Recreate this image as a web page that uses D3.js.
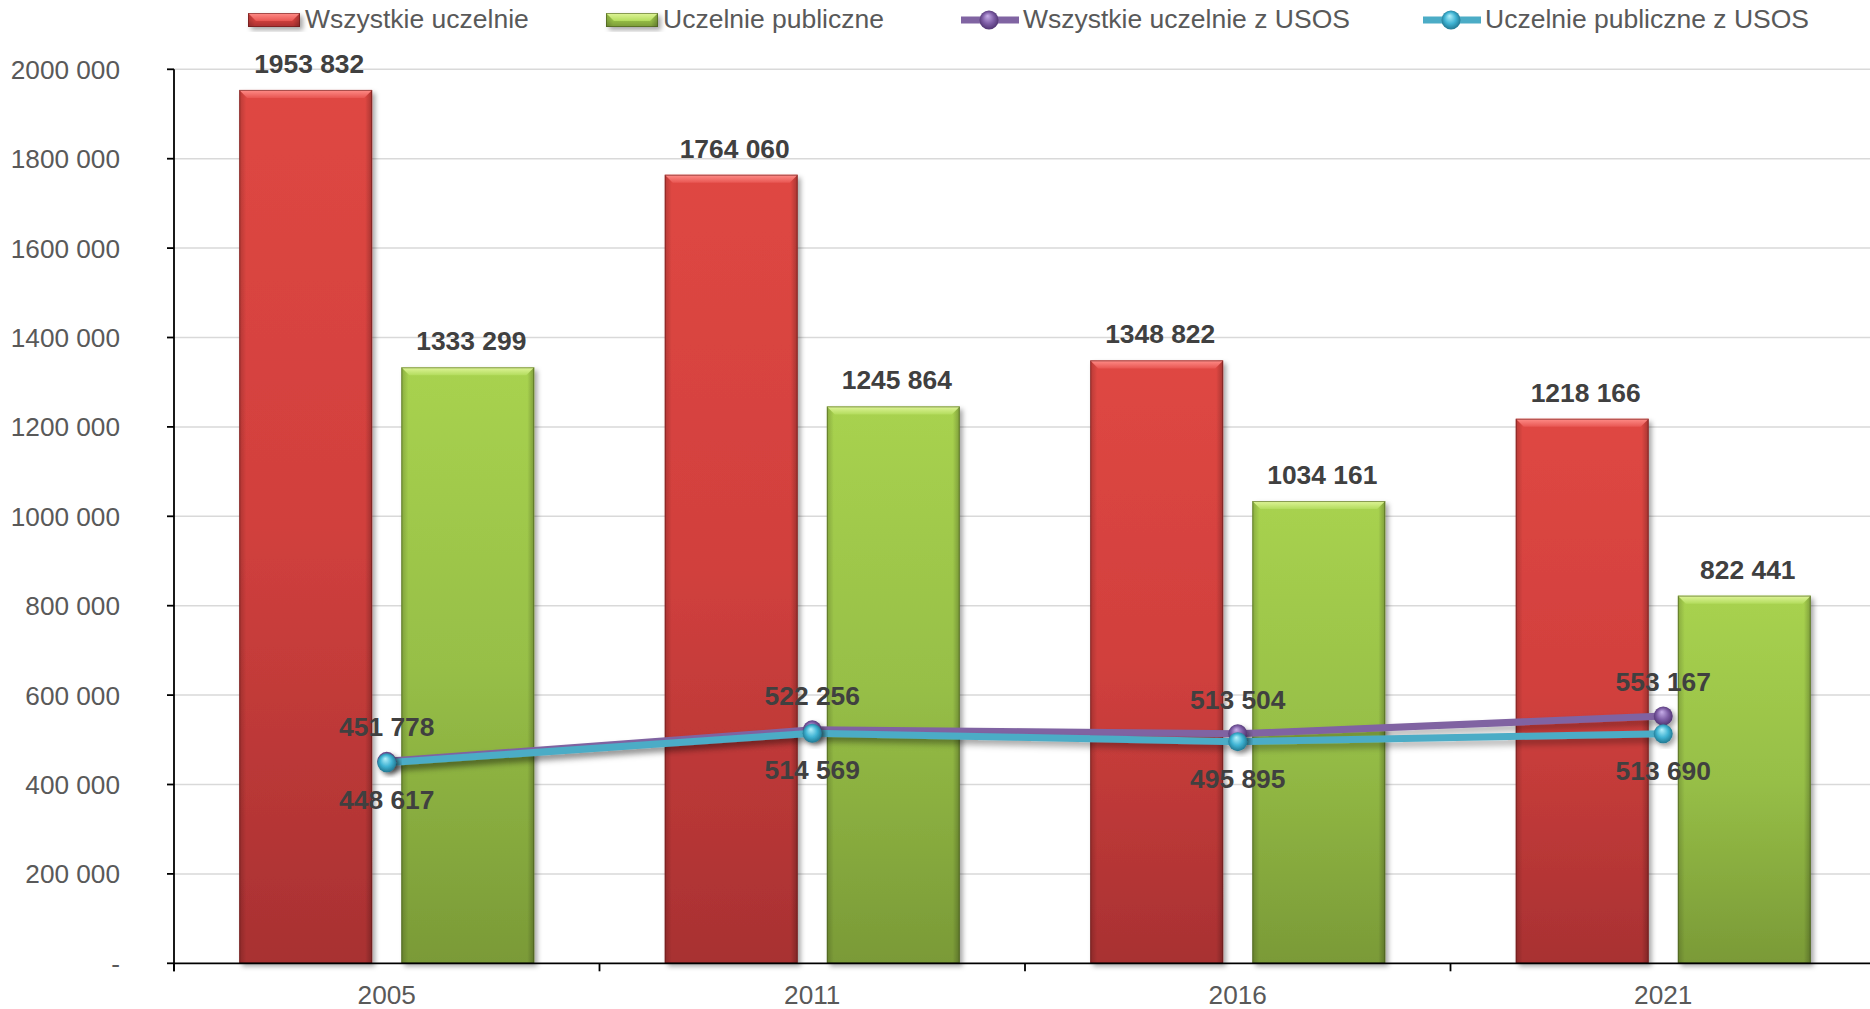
<!DOCTYPE html>
<html>
<head>
<meta charset="utf-8">
<script src="https://cdn.jsdelivr.net/npm/d3@7/dist/d3.min.js"></script>
<style>
  html, body { margin: 0; padding: 0; background: #fff; }
  svg { display: block; font-family: "Liberation Sans", Arial, sans-serif; }
</style>
</head>
<body>
<svg id="chart" width="1870" height="1009"></svg>
<script>
// ---- data ----
const years = ["2005", "2011", "2016", "2021"];
const allUniversities = [1953832, 1764060, 1348822, 1218166];
const publicUniversities = [1333299, 1245864, 1034161, 822441];
const allWithUSOS = [451778, 522256, 513504, 553167];
const publicWithUSOS = [448617, 514569, 495895, 513690];
const seriesNames = ["Wszystkie uczelnie", "Uczelnie publiczne", "Wszystkie uczelnie z USOS", "Uczelnie publiczne z USOS"];
const yTicks = [0, 200000, 400000, 600000, 800000, 1000000, 1200000, 1400000, 1600000, 1800000, 2000000];

function fmt(v) {
  if (v === 0) return "-";
  const th = Math.floor(v / 1000), rest = v % 1000;
  return th > 0 ? th + " " + String(rest).padStart(3, "0") : String(rest);
}

const svg = d3.select("#chart");
const defs = svg.append("defs");

const plotLeft = 174, plotRight = 1876, plotTop = 69.3, plotBottom = 963.3;

const x0 = d3.scaleBand().domain(years).range([plotLeft, plotRight]).paddingInner(0).paddingOuter(0);
const x1 = d3.scaleBand().domain([0, 1]).range([0, x0.bandwidth()]).paddingInner(0.18).paddingOuter(0.4025);
const y = d3.scaleLinear().domain([0, 2000000]).range([plotBottom, plotTop]);

// ---- gradients & filters ----
function linGrad(id, stops, x2, y2) {
  const g = defs.append("linearGradient").attr("id", id)
    .attr("x1", 0).attr("y1", 0).attr("x2", x2).attr("y2", y2);
  stops.forEach(s => g.append("stop").attr("offset", s[0]).attr("stop-color", s[1]).attr("stop-opacity", s[2] == null ? 1 : s[2]));
}
linGrad("redBody", [[0, "#df4743"], [0.5, "#d1403d"], [1, "#a83132"]], 0, 1);
linGrad("greenBody", [[0, "#a8d24f"], [0.5, "#97bf47"], [1, "#7a9a37"]], 0, 1);
linGrad("redTop", [[0, "#ff8e89"], [1, "#e85652"]], 0, 1);
linGrad("greenTop", [[0, "#e0f59a"], [1, "#b3dc5d"]], 0, 1);
linGrad("sideL", [[0, "#000", 0.18], [1, "#000", 0]], 1, 0);
linGrad("sideR", [[0, "#000", 0], [1, "#000", 0.25]], 1, 0);

function radGrad(id, c0, c1, c2) {
  const g = defs.append("radialGradient").attr("id", id)
    .attr("cx", "50%").attr("cy", "50%").attr("r", "55%").attr("fx", "42%").attr("fy", "28%");
  g.append("stop").attr("offset", 0).attr("stop-color", c0);
  g.append("stop").attr("offset", 0.55).attr("stop-color", c1);
  g.append("stop").attr("offset", 1).attr("stop-color", c2);
}
radGrad("cyanBall", "#b5f1fb", "#3fb3d3", "#1d6f88");
radGrad("purpleBall", "#c7aee8", "#7e5ea6", "#4a2f6b");

const sh = defs.append("filter").attr("id", "shadow").attr("x", "-20%").attr("y", "-20%").attr("width", "150%").attr("height", "150%");
sh.append("feDropShadow").attr("dx", 3).attr("dy", 3).attr("stdDeviation", 2.5).attr("flood-color", "#000").attr("flood-opacity", 0.35);
const shl = defs.append("filter").attr("id", "lineShadow").attr("x", "-10%").attr("y", "-50%").attr("width", "120%").attr("height", "300%");
shl.append("feDropShadow").attr("dx", 1).attr("dy", 5).attr("stdDeviation", 3).attr("flood-color", "#000").attr("flood-opacity", 0.3);

// ---- gridlines ----
svg.append("g").selectAll("line").data(yTicks.filter(t => t > 0)).join("line")
  .attr("x1", plotLeft).attr("x2", 1870)
  .attr("y1", d => y(d)).attr("y2", d => y(d))
  .attr("stroke", "#d9d9d9").attr("stroke-width", 1.5);

// ---- bars ----
const barSeries = [
  { values: allUniversities, body: "url(#redBody)", top: "url(#redTop)", edge: "#5e1515" },
  { values: publicUniversities, body: "url(#greenBody)", top: "url(#greenTop)", edge: "#3f5217" }
];

function drawBevelBar(g, bx, by, bw, bh, s) {
  const b = 8;
  const grp = g.append("g");
  grp.append("rect").attr("x", bx).attr("y", by).attr("width", bw).attr("height", bh)
    .attr("fill", s.body).attr("filter", "url(#shadow)");
  grp.append("rect").attr("x", bx).attr("y", by).attr("width", 7).attr("height", bh).attr("fill", "url(#sideL)");
  grp.append("rect").attr("x", bx + bw - 7).attr("y", by).attr("width", 7).attr("height", bh).attr("fill", "url(#sideR)");
  grp.append("polygon")
    .attr("points", [[bx, by], [bx + bw, by], [bx + bw - b, by + b], [bx + b, by + b]].map(p => p.join(",")).join(" "))
    .attr("fill", s.top);
  grp.append("rect").attr("x", bx + 0.5).attr("y", by + 0.5).attr("width", bw - 1).attr("height", bh - 1)
    .attr("fill", "none").attr("stroke", s.edge).attr("stroke-opacity", 0.55).attr("stroke-width", 1);
}

const barsG = svg.append("g");
barSeries.forEach((s, si) => {
  years.forEach((yr, i) => {
    const bx = x0(yr) + x1(si), bw = x1.bandwidth();
    const by = y(s.values[i]);
    drawBevelBar(barsG, bx, by, bw, y(0) - by, s);
  });
});

// bar labels
barSeries.forEach((s, si) => {
  svg.append("g").selectAll("text").data(s.values).join("text")
    .attr("x", (d, i) => x0(years[i]) + x1(si) + x1.bandwidth() / 2 + 3.5)
    .attr("y", d => y(d) - 17)
    .attr("text-anchor", "middle")
    .attr("font-size", 26.4).attr("font-weight", "bold").attr("fill", "#404040")
    .text(fmt);
});

// ---- axes ----
const axisG = svg.append("g");
// y axis
axisG.append("line").attr("x1", plotLeft).attr("x2", plotLeft).attr("y1", y(2000000)).attr("y2", plotBottom + 8)
  .attr("stroke", "#000").attr("stroke-width", 1.8);
axisG.selectAll(".yt").data(yTicks).join("line").attr("class", "yt")
  .attr("x1", plotLeft - 7).attr("x2", plotLeft).attr("y1", d => y(d)).attr("y2", d => y(d))
  .attr("stroke", "#000").attr("stroke-width", 1.8);
axisG.selectAll(".yl").data(yTicks).join("text").attr("class", "yl")
  .attr("x", 120).attr("y", d => y(d)).attr("dy", "0.36em")
  .attr("text-anchor", "end").attr("font-size", 26.2).attr("fill", "#595959")
  .text(fmt);
// x axis
axisG.append("line").attr("x1", plotLeft).attr("x2", 1870).attr("y1", plotBottom).attr("y2", plotBottom)
  .attr("stroke", "#000").attr("stroke-width", 1.8);
axisG.selectAll(".xt").data(years).join("line").attr("class", "xt")
  .attr("x1", d => x0(d)).attr("x2", d => x0(d)).attr("y1", plotBottom).attr("y2", plotBottom + 8)
  .attr("stroke", "#000").attr("stroke-width", 1.8);
axisG.selectAll(".xl").data(years).join("text").attr("class", "xl")
  .attr("x", d => x0(d) + x0.bandwidth() / 2).attr("y", 1004)
  .attr("text-anchor", "middle").attr("font-size", 26.2).attr("fill", "#595959")
  .text(d => d);

// ---- lines ----
const cx = yr => x0(yr) + x0.bandwidth() / 2;
const lineGen = d3.line().x((d, i) => cx(years[i])).y(d => y(d));
const lineSeries = [
  { values: allWithUSOS, color: "#8064a2", ball: "url(#purpleBall)", labelDy: -25 },
  { values: publicWithUSOS, color: "#4bacc6", ball: "url(#cyanBall)", labelDy: 46 }
];
lineSeries.forEach(s => {
  svg.append("path").datum(s.values).attr("d", lineGen)
    .attr("fill", "none").attr("stroke", s.color).attr("stroke-width", 7)
    .attr("stroke-linejoin", "round").attr("filter", "url(#lineShadow)");
});
lineSeries.forEach(s => {
  svg.append("g").selectAll("circle").data(s.values).join("circle")
    .attr("cx", (d, i) => cx(years[i])).attr("cy", d => y(d)).attr("r", 9.5)
    .attr("fill", s.ball).attr("filter", "url(#shadow)");
});
lineSeries.forEach(s => {
  svg.append("g").selectAll("text").data(s.values).join("text")
    .attr("x", (d, i) => cx(years[i])).attr("y", d => y(d) + s.labelDy)
    .attr("text-anchor", "middle")
    .attr("font-size", 26.4).attr("font-weight", "bold").attr("fill", "#404040")
    .text(fmt);
});

// ---- legend ----
const leg = svg.append("g");
const legBars = [{ x: 248, s: barSeries[0], name: seriesNames[0] }, { x: 606, s: barSeries[1], name: seriesNames[1] }];
legBars.forEach(l => {
  drawBevelBar(leg, l.x, 13, 52, 14, Object.assign({}, l.s));
  leg.append("text").attr("x", l.x + 57).attr("y", 27.5).attr("font-size", 26.5).attr("fill", "#595959").text(l.name);
});
const legLines = [{ x: 961, s: lineSeries[0], name: seriesNames[2] }, { x: 1423, s: lineSeries[1], name: seriesNames[3] }];
legLines.forEach(l => {
  leg.append("line").attr("x1", l.x).attr("x2", l.x + 58).attr("y1", 20).attr("y2", 20)
    .attr("stroke", l.s.color).attr("stroke-width", 7);
  leg.append("circle").attr("cx", l.x + 28).attr("cy", 20).attr("r", 9.5).attr("fill", l.s.ball);
  leg.append("text").attr("x", l.x + 62).attr("y", 27.5).attr("font-size", 26.5).attr("fill", "#595959").text(l.name);
});
</script>
</body>
</html>
